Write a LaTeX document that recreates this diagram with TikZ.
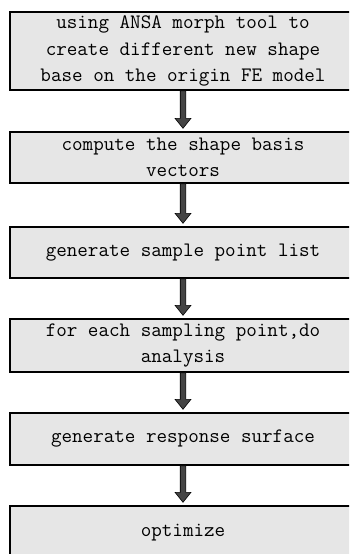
\documentclass[tikz,border=0pt]{standalone}
\usepackage{fontspec}
\setmonofont{Latin Modern Mono}
\usetikzlibrary{calc}

\definecolor{boxfill}{RGB}{230,230,230}
\definecolor{arrowfill}{RGB}{68,68,68}

\tikzset{
  stepbox/.style={draw=black, line width=1.4pt, fill=boxfill, rectangle,
    minimum width=346pt, inner sep=0pt, align=center,
    font=\ttfamily\fontsize{20.5}{26.5}\selectfont},
  flowarrow/.style={draw=black, line width=0.6pt, fill=arrowfill, line join=miter}
}

% block arrow from the bottom of one box to the top of the next
\newcommand{\blockarrow}[2]{%
  \draw[flowarrow]
    ($(#1.south)+(-2.8pt,0)$) -- ($(#2.north)+(-2.8pt,13pt)$)
    -- ($(#2.north)+(-8pt,13pt)$) -- ($(#2.north)+(0,3pt)$)
    -- ($(#2.north)+(8pt,13pt)$) -- ($(#2.north)+(2.8pt,13pt)$)
    -- ($(#1.south)+(2.8pt,0)$) -- cycle;}

\begin{document}
\begin{tikzpicture}[x=1pt,y=1pt]
  \useasboundingbox (0,0) rectangle (349,-554);
  \clip (0,0) rectangle (349,-554);
  \fill[white] (0,0) rectangle (349,-554);

  \node[stepbox, minimum height=78pt] (s1) at (183,-51)
    {using ANSA morph tool to\\create different new shape\\base on the origin FE model};
  \node[stepbox, minimum height=51pt] (s2) at (183,-157.5)
    {compute the shape basis\\vectors};
  \node[stepbox, minimum height=51pt] (s3) at (183,-252.5)
    {generate sample point list};
  \node[stepbox, minimum height=53pt] (s4) at (183,-345.5)
    {for each sampling point,do\\analysis};
  \node[stepbox, minimum height=52pt] (s5) at (183,-439)
    {generate response surface};
  \node[stepbox, minimum height=54pt] (s6) at (183,-533)
    {optimize};

  \blockarrow{s1}{s2}
  \blockarrow{s2}{s3}
  \blockarrow{s3}{s4}
  \blockarrow{s4}{s5}
  \blockarrow{s5}{s6}
\end{tikzpicture}
\end{document}
